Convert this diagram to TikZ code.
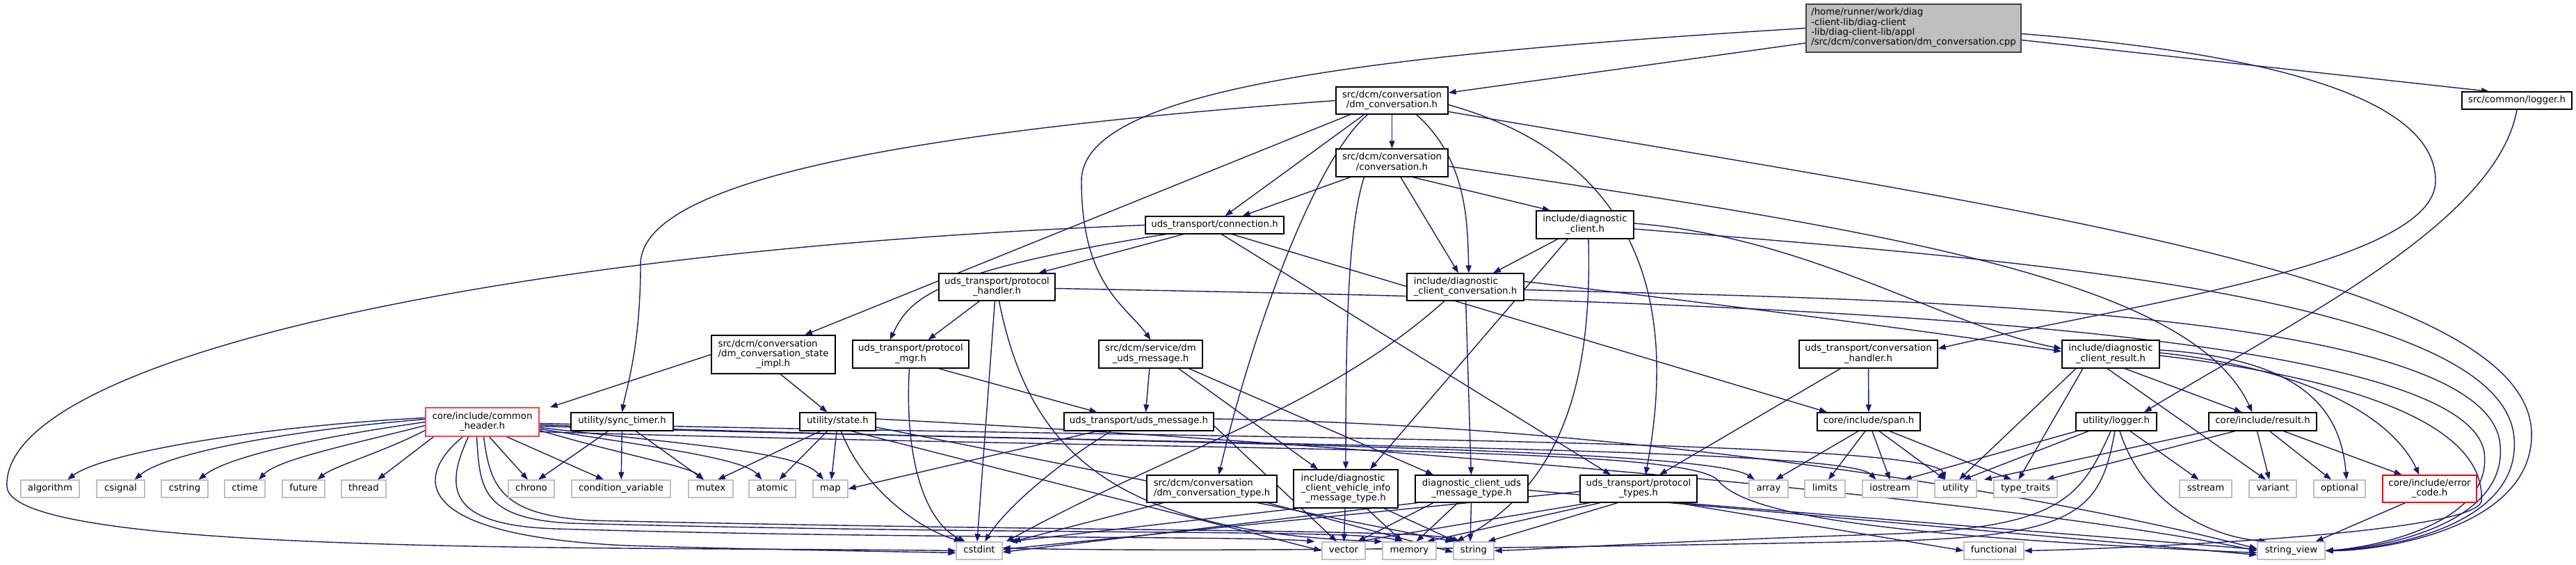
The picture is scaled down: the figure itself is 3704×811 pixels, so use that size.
\documentclass[tikz,border=0pt]{standalone}
\usepackage{fontspec}
\setmainfont{DejaVu Sans}
\usetikzlibrary{arrows.meta}
\definecolor{edgec}{RGB}{25,25,112}
\definecolor{stdgray}{RGB}{191,191,191}
\definecolor{topfill}{RGB}{191,191,191}
\definecolor{topdraw}{RGB}{64,64,64}
\definecolor{redA}{RGB}{255,70,70}
\definecolor{redB}{RGB}{255,0,0}
\newcommand\lbl[1]{\begin{tabular}{@{}l@{}}#1\end{tabular}}
\newcommand\ctr[1]{\multicolumn{1}{@{}c@{}}{#1}}
\pgfdeclarelayer{bg}
\pgfsetlayers{bg,main}
\begin{document}
\begin{tikzpicture}[x=1pt,y=-1pt,
  font=\fontsize{13.3pt}{14pt}\selectfont,
  nd/.style={draw=black, line width=1.3pt, fill=white, inner sep=0pt, rectangle},
  rd/.style={nd, draw=redA},
  sd/.style={draw=stdgray, line width=1.3pt, fill=white, inner sep=0pt, minimum height=25pt},
  e/.style={draw=edgec, line width=1.4pt, -{Triangle[length=11pt,width=8pt]}}]
\useasboundingbox (0,0) rectangle (3704,811);
% ---------- nodes ----------
\node[nd, draw=topdraw, fill=topfill, minimum width=309pt, minimum height=69pt] (T) at (2751.5,40.5)
  {\lbl{/home/runner/work/diag\\-client-lib/diag-client\\-lib/diag-client-lib/appl\\/src/dcm/conversation/dm\_conversation.cpp}};
\node[nd, minimum width=161pt, minimum height=39pt] (dmconv) at (2001.5,144.5) {\lbl{src/dcm/conversation\\\ctr{/dm\_conversation.h}}};
\node[nd, minimum width=161pt, minimum height=40pt] (conversation) at (2001.5,234) {\lbl{src/dcm/conversation\\\ctr{/conversation.h}}};
\node[nd, minimum width=158pt, minimum height=25pt] (commonlogger) at (3619,144.5) {\lbl{src/common/logger.h}};
\node[nd, minimum width=199pt, minimum height=25pt] (connection) at (1746.5,323.5) {\lbl{uds\_transport/connection.h}};
\node[nd, minimum width=140pt, minimum height=40pt] (diagclient) at (2279,323) {\lbl{include/diagnostic\\\ctr{\_client.h}}};
\node[nd, minimum width=167pt, minimum height=39pt] (protohandler) at (1433.5,412.5) {\lbl{uds\_transport/protocol\\\ctr{\_handler.h}}};
\node[nd, minimum width=168pt, minimum height=39pt] (diagconv) at (2107,412.5) {\lbl{include/diagnostic\\\ctr{\_client\_conversation.h}}};
\node[nd, minimum width=178pt, minimum height=55pt] (stateimpl) at (1112,509.5) {\lbl{src/dcm/conversation\\/dm\_conversation\_state\\\ctr{\_impl.h}}};
\node[nd, minimum width=167pt, minimum height=40pt] (protomgr) at (1309.5,509) {\lbl{uds\_transport/protocol\\\ctr{\_mgr.h}}};
\node[nd, minimum width=149pt, minimum height=40pt] (dmuds) at (1654.5,509) {\lbl{src/dcm/service/dm\\\ctr{\_uds\_message.h}}};
\node[nd, minimum width=199pt, minimum height=40pt] (convhandler) at (2686.5,509) {\lbl{uds\_transport/conversation\\\ctr{\_handler.h}}};
\node[nd, minimum width=140pt, minimum height=40pt] (diagresult) at (3035,509) {\lbl{include/diagnostic\\\ctr{\_client\_result.h}}};
\node[rd, minimum width=163pt, minimum height=41pt] (commonheader) at (693.5,606.5) {\lbl{core/include/common\\\ctr{\_header.h}}};
\node[nd, minimum width=147pt, minimum height=26pt] (synctimer) at (894.5,606) {\lbl{utility/sync\_timer.h}};
\node[nd, minimum width=109pt, minimum height=26pt] (state) at (1204.5,606) {\lbl{utility/state.h}};
\node[nd, minimum width=215pt, minimum height=26pt] (udsmsg) at (1637.5,606) {\lbl{uds\_transport/uds\_message.h}};
\node[nd, minimum width=148pt, minimum height=26pt] (span) at (2687,606) {\lbl{core/include/span.h}};
\node[nd, minimum width=116pt, minimum height=26pt] (utillogger) at (3043,606) {\lbl{utility/logger.h}};
\node[nd, minimum width=155pt, minimum height=26pt] (result) at (3253.5,606) {\lbl{core/include/result.h}};
\node[nd, minimum width=187pt, minimum height=39pt] (dmconvtype) at (1742.5,702.5) {\lbl{src/dcm/conversation\\\ctr{/dm\_conversation\_type.h}}};
\node[nd, minimum width=150pt, minimum height=55pt] (vehicleinfo) at (1935,702.5) {\lbl{include/diagnostic\\\_client\_vehicle\_info\\\ctr{\_message\_type.h}}};
\node[nd, minimum width=162pt, minimum height=39pt] (udsmsgtype) at (2116,702.5) {\lbl{diagnostic\_client\_uds\\\ctr{\_message\_type.h}}};
\node[nd, minimum width=168pt, minimum height=39pt] (prototypes) at (2356,702.5) {\lbl{uds\_transport/protocol\\\ctr{\_types.h}}};
\node[nd, draw=redB, minimum width=135pt, minimum height=39pt] (errorcode) at (3493.5,702.5) {\lbl{core/include/error\\\ctr{\_code.h}}};
% std headers
\node[sd, minimum width=84pt] (algorithm) at (72,702.5) {\lbl{algorithm}};
\node[sd, minimum width=69pt] (csignal) at (173.5,702.5) {\lbl{csignal}};
\node[sd, minimum width=67pt] (cstring) at (265.5,702.5) {\lbl{cstring}};
\node[sd, minimum width=58pt] (ctime) at (352,702.5) {\lbl{ctime}};
\node[sd, minimum width=61pt] (future) at (436.5,702.5) {\lbl{future}};
\node[sd, minimum width=64pt] (thread) at (523,702.5) {\lbl{thread}};
\node[sd, minimum width=66pt] (chrono) at (764,702.5) {\lbl{chrono}};
\node[sd, minimum width=142pt] (condvar) at (893,702.5) {\lbl{condition\_variable}};
\node[sd, minimum width=64pt] (mutex) at (1022,702.5) {\lbl{mutex}};
\node[sd, minimum width=67pt] (atomic) at (1110.5,702.5) {\lbl{atomic}};
\node[sd, minimum width=50pt] (map) at (1194,702.5) {\lbl{map}};
\node[sd, minimum width=56pt] (array) at (2543,702.5) {\lbl{array}};
\node[sd, minimum width=58pt] (limits) at (2624,702.5) {\lbl{limits}};
\node[sd, minimum width=79pt] (iostream) at (2717.5,702.5) {\lbl{iostream}};
\node[sd, minimum width=60pt] (utility) at (2812,702.5) {\lbl{utility}};
\node[sd, minimum width=91pt] (typetraits) at (2912.5,702.5) {\lbl{type\_traits}};
\node[sd, minimum width=75pt] (sstream) at (3171.5,702.5) {\lbl{sstream}};
\node[sd, minimum width=68pt] (variant) at (3268,702.5) {\lbl{variant}};
\node[sd, minimum width=74pt] (optional) at (3364,702.5) {\lbl{optional}};
\node[sd, minimum width=66pt] (cstdint) at (1408,791.5) {\lbl{cstdint}};
\node[sd, minimum width=62pt] (vector) at (1932,791.5) {\lbl{vector}};
\node[sd, minimum width=77pt] (memory) at (2026.5,791.5) {\lbl{memory}};
\node[sd, minimum width=58pt] (string) at (2119,791.5) {\lbl{string}};
\node[sd, minimum width=86pt] (functional) at (2867,791.5) {\lbl{functional}};
\node[sd, minimum width=97pt] (stringview) at (3294.5,791.5) {\lbl{string\_view}};
% ---------- edges ----------
\begin{pgfonlayer}{bg}
% top file
\draw[e] (T) -- (dmconv);
\draw[e] (T.west) .. controls (1950,80) and (1555,130) .. (1555,260) .. controls (1555,410) and (1620,440) .. (dmuds.north);
\draw[e] ([yshift=-8pt]T.east) .. controls (3300,80) and (3502,150) .. (3502,260) .. controls (3502,380) and (3050,440) .. ([yshift=8pt]convhandler.east);
\draw[e] (T) -- ([xshift=-40pt]commonlogger.north);
\draw[e] (commonlogger.south) .. controls (3590,320) and (3300,460) .. ([xshift=40pt]utillogger.north);
% dm_conversation.h
\draw[e] (dmconv.west) .. controls (1300,190) and (921,260) .. (921,380) .. controls (921,500) and (900,560) .. (synctimer.north);
\draw[e] ([xshift=-60pt]dmconv.south) -- ([xshift=45pt]stateimpl.north);
\draw[e] ([xshift=-40pt]dmconv.south) -- ([xshift=15pt]connection.north);
\draw[e] (dmconv) -- (conversation);
\draw[e] ([xshift=-35pt]dmconv.south) .. controls (1890,230) and (1800,480) .. ([xshift=10pt]dmconvtype.north);
\draw[e] ([xshift=35pt]dmconv.south) .. controls (2110,230) and (2110,320) .. ([xshift=5pt]diagconv.north);
\draw[e] ([yshift=-6pt]dmconv.east) .. controls (2330,220) and (2420,400) .. ([xshift=10pt]prototypes.north);
\draw[e] ([yshift=-16pt]dmconv.east) .. controls (2900,300) and (3630,400) .. (3640,620) .. controls (3645,760) and (3420,792) .. (stringview.east);
% conversation.h
\draw[e] ([xshift=-60pt]conversation.south) -- ([xshift=40pt]connection.north);
\draw[e] ([xshift=-40pt]conversation.south) .. controls (1940,320) and (1935,450) .. (vehicleinfo.north);
\draw[e] (conversation) -- ([xshift=-10pt]diagconv.north);
\draw[e] ([xshift=30pt]conversation.south) -- ([xshift=-50pt]diagclient.north);
\draw[e] ([yshift=-5pt]conversation.east) .. controls (2700,330) and (3150,400) .. ([xshift=-15pt]result.north);
% diagnostic_client.h
\draw[e] (diagclient) -- ([xshift=40pt]diagconv.north);
\draw[e] ([xshift=-25pt]diagclient.south) -- ([xshift=35pt]vehicleinfo.north);
\draw[e] ([xshift=5pt]diagclient.south) .. controls (2290,560) and (2240,700) .. ([xshift=-25pt]string.north);
\draw[e] ([yshift=2pt]diagclient.east) .. controls (2600,340) and (2800,470) .. ([yshift=8pt]diagresult.west);
\draw[e] ([yshift=-6pt]diagclient.east) .. controls (2850,370) and (3600,420) .. (3615,630) .. controls (3625,760) and (3420,790) .. (stringview.east);
% diagnostic_client_conversation.h
\draw[e] ([xshift=-30pt]diagconv.south) .. controls (1900,590) and (1700,640) .. ([xshift=5pt]cstdint.north east);
\draw[e] (diagconv) -- (udsmsgtype);
\draw[e] ([yshift=8pt]diagconv.east) .. controls (2500,440) and (2800,480) .. ([yshift=4pt]diagresult.west);
\draw[e] ([yshift=-4pt]diagconv.east) .. controls (2700,430) and (3580,440) .. (3595,640) .. controls (3605,755) and (3420,788) .. (stringview.east);
% protocol_handler.h
\draw[e] ([xshift=-25pt]protohandler.south) -- ([xshift=25pt]protomgr.north);
\draw[e] ([xshift=-3pt]protohandler.south) -- ([xshift=-3pt]cstdint.north);
\draw[e] ([xshift=3pt]protohandler.south) .. controls (1480,650) and (1600,765) .. (memory.north west);
\draw[e] ([yshift=-2pt]protohandler.east) .. controls (2300,430) and (3540,450) .. (3572,650) .. controls (3585,750) and (3420,786) .. (stringview.east);
% protocol_mgr.h
\draw[e] ([xshift=-2pt]protomgr.south) .. controls (1300,660) and (1330,750) .. ([xshift=-20pt]cstdint.north);
\draw[e] ([xshift=40pt]protomgr.south) -- ([xshift=-60pt]udsmsg.north);
% state impl
\draw[e] (stateimpl.west) -- ([xshift=15pt]commonheader.north east);
\draw[e] ([xshift=10pt]stateimpl.south) -- ([xshift=-15pt]state.north);
% dm_uds_message.h
\draw[e] (dmuds) -- ([xshift=10pt]udsmsg.north);
\draw[e] ([xshift=40pt]dmuds.south) -- ([xshift=-40pt]vehicleinfo.north);
\draw[e] ([xshift=55pt]dmuds.south) -- ([xshift=-55pt]udsmsgtype.north);
% sync_timer
\draw[e] ([xshift=-20pt]synctimer.south) -- ([xshift=10pt]chrono.north);
\draw[e] (synctimer) -- (condvar);
\draw[e] ([xshift=20pt]synctimer.south) -- ([xshift=-10pt]mutex.north);
% state.h
\draw[e] ([xshift=-25pt]state.south) -- ([xshift=10pt]mutex.north);
\draw[e] ([xshift=-15pt]state.south) -- ([xshift=10pt]atomic.north);
\draw[e] (state) -- (map);
\draw[e] ([xshift=5pt]state.south) .. controls (1240,700) and (1320,760) .. ([xshift=-25pt]cstdint.north);
\draw[e] ([xshift=20pt]state.south) -- (vector.west);
\draw[e] ([yshift=-8pt]state.east) -- (string.north west);
\draw[e] ([yshift=4pt]state.east) .. controls (2000,640) and (2900,720) .. (stringview.west);
% uds_message.h
\draw[e] ([xshift=-60pt]udsmsg.south) -- (map.east);
\draw[e] ([xshift=-40pt]udsmsg.south) .. controls (1500,680) and (1440,740) .. ([xshift=8pt]cstdint.north);
\draw[e] ([yshift=-6pt]udsmsg.east) -- ([xshift=-10pt]vector.north);
\draw[e] ([yshift=4pt]udsmsg.east) .. controls (2300,610) and (2900,700) .. ([yshift=3pt]stringview.west);
% connection.h
\draw[e] ([xshift=-70pt]connection.south) .. controls (1340,390) and (1308,430) .. ([xshift=-30pt]protomgr.north);
\draw[e] ([xshift=-45pt]connection.south) -- ([xshift=60pt]protohandler.north);
\draw[e] (connection.west) .. controls (700,360) and (0,520) .. (10,700) .. controls (20,800) and (900,785) .. (cstdint.west);
\draw[e] ([xshift=10pt]connection.south) -- ([xshift=-40pt]prototypes.north);
\draw[e] ([xshift=25pt]connection.south) -- ([xshift=-60pt]span.north);
% conversation_handler.h
\draw[e] ([xshift=-40pt]convhandler.south) -- ([xshift=30pt]prototypes.north);
\draw[e] (convhandler) -- (span);
% span.h
\draw[e] ([xshift=-15pt]span.south) -- ([xshift=10pt]array.north);
\draw[e] ([xshift=-5pt]span.south) -- ([xshift=5pt]limits.north);
\draw[e] ([xshift=5pt]span.south) -- (iostream.north);
\draw[e] ([xshift=15pt]span.south) -- ([xshift=-15pt]utility.north);
\draw[e] ([xshift=30pt]span.south) -- ([xshift=-20pt]typetraits.north);
% common_header.h
\draw[e] ([yshift=6pt]commonheader.west) .. controls (380,612) and (150,650) .. ([xshift=25pt]algorithm.north);
\draw[e] ([yshift=4pt]commonheader.west) .. controls (420,618) and (240,650) .. ([xshift=20pt]csignal.north);
\draw[e] ([yshift=0pt]commonheader.west) .. controls (460,628) and (330,655) .. ([xshift=20pt]cstring.north);
\draw[e] ([yshift=-5pt]commonheader.west) .. controls (500,640) and (400,660) .. ([xshift=20pt]ctime.north);
\draw[e] ([yshift=-12pt]commonheader.west) .. controls (550,650) and (480,670) .. ([xshift=20pt]future.north);
\draw[e] ([xshift=-70pt]commonheader.south) -- ([xshift=20pt]thread.north);
\draw[e] ([xshift=10pt]commonheader.south) -- ([xshift=-5pt]chrono.north);
\draw[e] ([xshift=35pt]commonheader.south) -- ([xshift=-25pt]condvar.north);
\draw[e] ([yshift=-12pt]commonheader.east) .. controls (900,655) and (990,670) .. ([xshift=-10pt]mutex.north);
\draw[e] ([yshift=-10pt]commonheader.east) .. controls (960,645) and (1070,660) .. ([xshift=-15pt]atomic.north);
\draw[e] ([yshift=-8pt]commonheader.east) .. controls (1000,640) and (1150,650) .. ([xshift=-10pt]map.north);
\draw[e] ([yshift=-6pt]commonheader.east) .. controls (1500,635) and (2450,640) .. ([xshift=-20pt]array.north);
\draw[e] ([yshift=-4pt]commonheader.east) .. controls (1600,640) and (2650,640) .. ([xshift=-20pt]iostream.north);
\draw[e] ([yshift=-2pt]commonheader.east) .. controls (1700,630) and (2780,630) .. ([xshift=-15pt]utility.north);
\draw[e] ([yshift=-14pt]commonheader.east) .. controls (1800,650) and (2420,640) .. (2470,690) .. controls (2510,740) and (2700,770) .. ([yshift=-3pt]stringview.west);
\draw[e] ([xshift=-28pt]commonheader.south) .. controls (590,690) and (600,770) .. (900,784) .. controls (1100,790) and (1250,792) .. ([yshift=-3pt]cstdint.west);
\draw[e] ([xshift=-20pt]commonheader.south) .. controls (640,700) and (640,755) .. (800,760) .. controls (1300,775) and (1800,770) .. ([xshift=-10pt]vector.north west);
\draw[e] ([xshift=-8pt]commonheader.south) .. controls (690,700) and (690,745) .. (820,752) .. controls (1500,770) and (1950,760) .. ([xshift=-10pt]memory.north);
\draw[e] ([xshift=2pt]commonheader.south) .. controls (705,700) and (720,740) .. (850,748) .. controls (1600,765) and (2050,760) .. ([xshift=-20pt]string.north);
% vehicle info
\draw[e] ([xshift=-70pt]vehicleinfo.south) -- ([xshift=10pt]cstdint.north east);
\draw[e] (vehicleinfo) -- (vector);
\draw[e] ([xshift=30pt]vehicleinfo.south) -- ([xshift=-10pt]memory.north);
\draw[e] ([xshift=55pt]vehicleinfo.south) -- ([xshift=-25pt]string.north);
% uds message type
\draw[e] ([xshift=-78pt]udsmsgtype.south) -- ([yshift=-2pt]cstdint.east);
\draw[e] ([xshift=-55pt]udsmsgtype.south) -- ([xshift=20pt]vector.north);
\draw[e] ([xshift=-20pt]udsmsgtype.south) -- ([xshift=10pt]memory.north);
\draw[e] (udsmsgtype) -- ([xshift=-5pt]string.north);
\draw[e] ([yshift=-2pt]udsmsgtype.east) -- ([yshift=-6pt]stringview.west);
% protocol types
\draw[e] ([yshift=-4pt]prototypes.west) -- ([yshift=2pt]cstdint.east);
\draw[e] ([xshift=-70pt]prototypes.south) -- ([xshift=20pt]vector.north);
\draw[e] ([xshift=-55pt]prototypes.south) -- ([xshift=25pt]memory.north);
\draw[e] ([xshift=-30pt]prototypes.south) -- ([xshift=20pt]string.north);
\draw[e] ([xshift=60pt]prototypes.south) -- ([yshift=2pt]stringview.west);
\draw[e] ([xshift=55pt]prototypes.south) -- (functional.west);
% dm conversation type
\draw[e] ([xshift=-70pt]dmconvtype.south) -- ([xshift=15pt]cstdint.north east);
\draw[e] ([xshift=80pt]dmconvtype.south) -- ([yshift=-2pt]string.west);
% diagnostic_client_result.h
\draw[e] ([xshift=-50pt]diagresult.south) -- ([xshift=5pt]utility.north);
\draw[e] ([xshift=-40pt]diagresult.south) -- ([xshift=-10pt]typetraits.north);
\draw[e] ([xshift=-5pt]diagresult.south) -- ([xshift=-10pt]variant.north);
\draw[e] ([xshift=20pt]diagresult.south) -- ([xshift=-30pt]result.north);
\draw[e] ([yshift=6pt]diagresult.east) .. controls (3300,515) and (3365,580) .. ([xshift=10pt]optional.north);
\draw[e] ([yshift=2pt]diagresult.east) .. controls (3320,530) and (3440,600) .. ([xshift=-15pt]errorcode.north);
\draw[e] ([yshift=-2pt]diagresult.east) .. controls (3350,540) and (3575,600) .. (3568,720) .. controls (3560,770) and (3000,790) .. (functional.east);
% utility/logger.h
\draw[e] ([xshift=-50pt,yshift=2pt]utillogger.south) -- ([xshift=-20pt]iostream.north east);
\draw[e] ([xshift=-40pt]utillogger.south) -- ([xshift=-20pt]utility.north east);
\draw[e] ([xshift=20pt]utillogger.south) -- ([xshift=-10pt]sstream.north);
\draw[e] ([xshift=5pt]utillogger.south) .. controls (3080,720) and (3170,770) .. ([xshift=-35pt]stringview.north);
\draw[e] ([xshift=-8pt]utillogger.south) .. controls (2990,720) and (2960,760) .. (2700,768) .. controls (2400,778) and (2200,790) .. (string.east);
\draw[e] ([xshift=-2pt]utillogger.south) .. controls (3020,735) and (2990,772) .. (2700,778) .. controls (2000,792) and (1600,792) .. ([yshift=4pt]cstdint.east);
% core/include/result.h
\draw[e] (result.south west) -- ([xshift=10pt]utility.north east);
\draw[e] ([xshift=-40pt]result.south) -- ([xshift=30pt]typetraits.north);
\draw[e] ([xshift=-8pt]result.south) -- ([xshift=-5pt]variant.north);
\draw[e] ([xshift=10pt]result.south) -- ([xshift=-12pt]optional.north);
\draw[e] ([xshift=30pt]result.south) -- ([xshift=-40pt]errorcode.north);
% error_code
\draw[e] ([xshift=-35pt]errorcode.south) -- ([xshift=35pt]stringview.north);
\end{pgfonlayer}
\end{tikzpicture}
\end{document}
